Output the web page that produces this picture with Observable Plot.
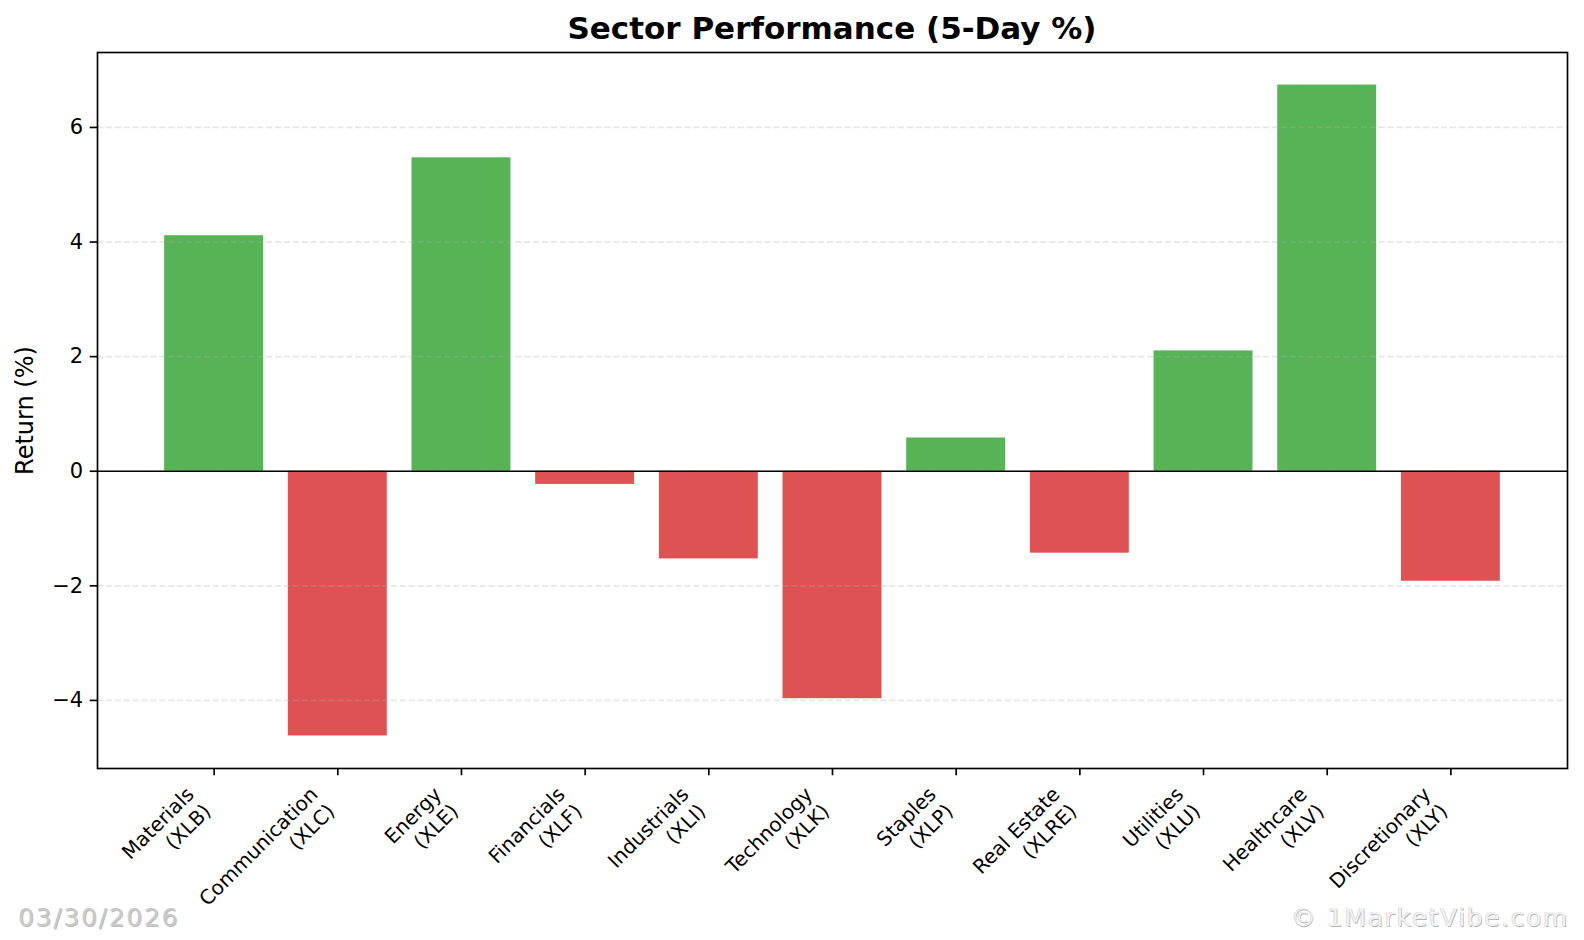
<!DOCTYPE html>
<html>
<head>
<meta charset="utf-8">
<script src="https://cdn.jsdelivr.net/npm/d3@7"></script>
<script src="https://cdn.jsdelivr.net/npm/@observablehq/plot@0.6"></script>
<style>
  html, body { margin: 0; padding: 0; background: #fff; }
  #wrap { position: relative; width: 1584px; height: 940px; overflow: hidden; font-family: "DejaVu Sans", sans-serif; }
  #chart { position: absolute; left: 0; top: 0; }
  #title { position: absolute; left: 97px; width: 1470px; top: 10px; text-align: center; font-size: 31px; font-weight: bold; color: #000; line-height: normal; white-space: nowrap; }
  #date { position: absolute; left: 18px; top: 903px; font-size: 25px; color: #cacaca; letter-spacing: 1.7px; line-height: normal; text-shadow: 1px 1px 0 rgba(110,110,110,0.45); white-space: nowrap; }
  #credit { position: absolute; right: 15px; top: 903px; font-size: 25px; color: #f2f2f2; letter-spacing: 1.6px; line-height: normal; text-shadow: 0.7px 0.7px 0 #b4b4b4, -0.5px -0.5px 0 #c8c8c8; white-space: nowrap; }
</style>
</head>
<body>
<div id="wrap">
  <div id="chart"></div>
  <div id="title">Sector Performance (5-Day %)</div>
  <div id="date">03/30/2026</div>
  <div id="credit">© 1MarketVibe.com</div>
</div>
<script>
const sectors = ["Materials", "Communication", "Energy", "Financials", "Industrials", "Technology", "Staples", "Real Estate", "Utilities", "Healthcare", "Discretionary"];
const tickers = ["XLB", "XLC", "XLE", "XLF", "XLI", "XLK", "XLP", "XLRE", "XLU", "XLV", "XLY"];
const returns = [4.11, -4.62, 5.47, -0.23, -1.53, -3.97, 0.58, -1.43, 2.10, 6.74, -1.92];
const yTicks = [-4, -2, 0, 2, 4, 6];

const green = "#56b356";
const red = "#de5253";

const data = sectors.map((s, i) => ({
  sector: s,
  ticker: tickers[i],
  value: returns[i],
  label: s + "\n(" + tickers[i] + ")"
}));

const [lo, hi] = d3.extent(returns);
const pad = (hi - lo) * 0.05;

const chart = Plot.plot({
  width: 1584,
  height: 940,
  marginTop: 52,
  marginBottom: 172,
  marginLeft: 97,
  marginRight: 17,
  style: { fontFamily: "DejaVu Sans", background: "white", color: "black" },
  x: { type: "band", domain: tickers, paddingInner: 0.2, paddingOuter: 0.543, align: 0.5, round: false, axis: null },
  y: { domain: [lo - pad, hi + pad], axis: null },
  color: { domain: ["pos", "neg"], range: [green, red] },
  marks: [
    Plot.barY(data, { x: "ticker", y: "value", fill: d => d.value >= 0 ? "pos" : "neg" }),
    Plot.gridY(yTicks, { stroke: "#b0b0b0", strokeOpacity: 0.3, strokeWidth: 1.67, strokeDasharray: "6.2,2.7" }),
    Plot.ruleY([0], { stroke: "black", strokeWidth: 1.67 }),
    Plot.frame({ stroke: "black", strokeWidth: 1.67 }),
    Plot.axisY(yTicks, {
      tickSize: 7.3, tickPadding: 7, fontSize: 21, label: null, strokeWidth: 1.67,
      tickFormat: d => d < 0 ? "\u2212" + Math.abs(d) : String(d)
    }),
    Plot.axisX(tickers, { tickSize: 7.3, tickFormat: () => "", label: null, strokeWidth: 1.67 }),
    Plot.text(data, {
      x: "ticker", text: "label", frameAnchor: "bottom",
      rotate: -45, textAnchor: "end", lineAnchor: "top", lineHeight: 1.2,
      fontSize: 20, dx: -31, dy: 15, fill: "black"
    }),
    Plot.text(["Return (%)"], { frameAnchor: "left", dx: -72, rotate: -90, textAnchor: "middle", fontSize: 24, fill: "black" })
  ]
});
document.getElementById("chart").appendChild(chart);
</script>
</body>
</html>
